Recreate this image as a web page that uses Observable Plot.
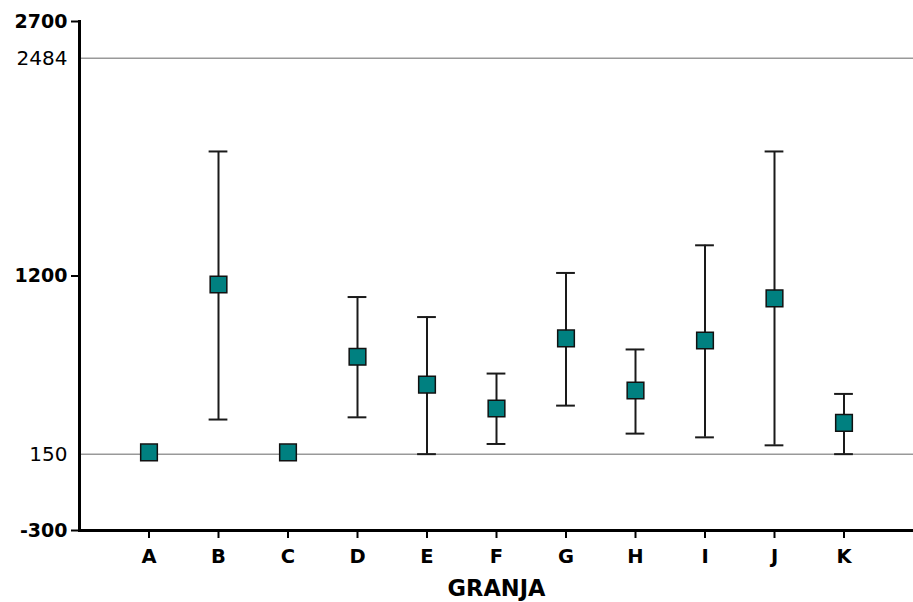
<!DOCTYPE html>
<html>
<head>
<meta charset="utf-8">
<script src="https://cdn.jsdelivr.net/npm/d3@7"></script>
<script src="https://cdn.jsdelivr.net/npm/@observablehq/plot@0.6"></script>
<style>
  html, body { margin: 0; padding: 0; background: #fff; }
  svg { display: block; }
</style>
</head>
<body>
<div id="chart"></div>
<script>
const granjas = ["A", "B", "C", "D", "E", "F", "G", "H", "I", "J", "K"];
const means   = [160, 1150, 160, 724, 560, 419, 832, 525, 820, 1068, 334];
const lowers  = [null, 354, null, 367, 150, 210, 436, 271, 249, 202, 150];
const uppers  = [null, 1934, null, 1076, 958, 625, 1218, 767, 1381, 1934, 505];
const boldTicks = [-300, 1200, 2700];
const plainTicks = [150, 2484];
const refLines = [150, 2484];

const data = granjas.map((g, i) => ({granja: g, mean: means[i], lo: lowers[i], hi: uppers[i]}));
const bars = data.filter(d => d.lo != null);

const font = "DejaVu Sans, Verdana, sans-serif";

const chart = Plot.plot({
  width: 913,
  height: 602,
  marginLeft: 79,
  marginRight: 0,
  marginTop: 21,
  marginBottom: 72,
  style: {fontFamily: font, color: "#000", background: "#fff"},
  x: {type: "band", domain: granjas, paddingInner: 0.73, paddingOuter: 0.865, round: false},
  y: {domain: [-300, 2700]},
  marks: [
    Plot.ruleY(refLines, {stroke: "#999", strokeWidth: 1.5}),
    Plot.ruleX(bars, {x: "granja", y1: "lo", y2: "hi", stroke: "#1a1a1a", strokeWidth: 2}),
    Plot.tickY(bars, {x: "granja", y: "lo", stroke: "#1a1a1a", strokeWidth: 2}),
    Plot.tickY(bars, {x: "granja", y: "hi", stroke: "#1a1a1a", strokeWidth: 2}),
    Plot.dot(data, {x: "granja", y: "mean", symbol: "square", r: 9.4, fill: "#008080", stroke: "#111", strokeWidth: 1.5}),
    Plot.frame({anchor: "left", stroke: "#000", strokeWidth: 3}),
    Plot.frame({anchor: "bottom", stroke: "#000", strokeWidth: 3}),
    Plot.axisY({ticks: boldTicks, tickSize: 8, tickPadding: 4, strokeWidth: 2, fontSize: 19, fontWeight: "bold", label: null, tickFormat: d => String(d)}),
    Plot.axisY({ticks: plainTicks, tickSize: 0, tickPadding: 12, fontSize: 20, label: null, tickFormat: d => String(d)}),
    Plot.axisX({tickSize: 8, tickPadding: 11, strokeWidth: 2, fontSize: 19.5, fontWeight: "bold", label: null}),
    Plot.axisX({ticks: [], tickSize: 0, fontSize: 22.5, fontWeight: "bold", label: "GRANJA", labelAnchor: "center", labelOffset: 65})
  ]
});
document.getElementById("chart").appendChild(chart);
</script>
</body>
</html>
